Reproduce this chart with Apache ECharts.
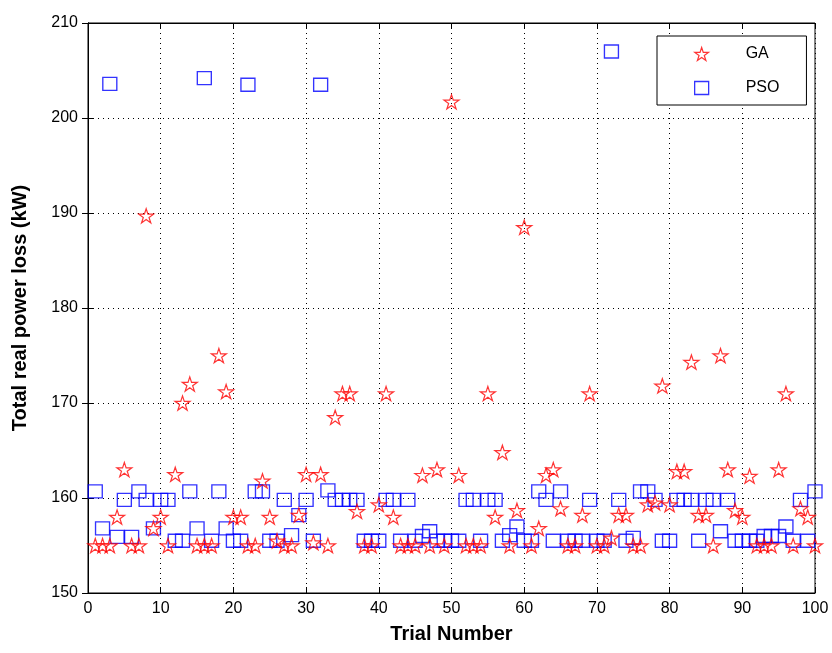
<!DOCTYPE html>
<html>
<head>
<meta charset="utf-8">
<script src="https://cdn.jsdelivr.net/npm/echarts@6/dist/echarts.min.js"></script>
<style>
  html, body { margin: 0; padding: 0; background: #fff; }
  #chart { width: 832px; height: 653px; }
</style>
</head>
<body>
<div id="chart"></div>
<script>
// ---- data ----
const xTicks = [0, 10, 20, 30, 40, 50, 60, 70, 80, 90, 100];
const yTicks = [150, 160, 170, 180, 190, 200, 210];

const gaValues = [
  155, 155, 155, 158, 163, 155, 155, 189.7, 156.8, 158,
  155, 162.5, 170, 172, 155, 155, 155, 175, 171.2, 158,
  158, 155, 155, 161.8, 158, 155.5, 155, 155, 158.2, 162.5,
  155.3, 162.5, 155, 168.5, 171, 171, 158.6, 155, 155, 159.3,
  171, 158, 155, 155, 155, 162.4, 155, 163, 155, 201.7,
  162.4, 155, 155, 155, 171, 158, 164.8, 155, 158.7, 188.5,
  155, 156.8, 162.4, 163, 158.9, 155, 155, 158.2, 171, 155,
  155, 155.8, 158.2, 158.2, 155, 155, 159.3, 159.5, 171.8, 159.3,
  162.8, 162.8, 174.3, 158.2, 158.2, 155, 175, 163, 158.7, 158,
  162.3, 155, 155, 155, 163, 171, 155, 158.9, 158, 155
];

const psoValues = [
  160.7, 156.8, 203.6, 155.9, 159.8, 155.9, 160.7, 159.8, 156.8, 159.8,
  159.8, 155.5, 155.5, 160.7, 156.8, 204.2, 155.5, 160.7, 156.8, 155.5,
  155.5, 203.5, 160.7, 160.7, 155.5, 155.5, 159.8, 156.1, 158.2, 159.8,
  155.5, 203.5, 160.8, 159.8, 159.8, 159.8, 159.8, 155.5, 155.5, 155.5,
  159.8, 159.8, 155.5, 159.8, 155.5, 156.0, 156.5, 155.5, 155.5, 155.5,
  155.5, 159.8, 159.8, 155.5, 159.8, 159.8, 155.5, 156.1, 157.0, 155.5,
  155.5, 160.7, 159.8, 155.5, 160.7, 155.5, 155.5, 155.5, 159.8, 155.5,
  155.5, 207.0, 159.8, 155.5, 155.8, 160.7, 160.7, 159.8, 155.5, 155.5,
  159.8, 159.8, 159.8, 155.5, 159.8, 159.8, 156.5, 159.8, 155.5, 155.5,
  155.5, 155.5, 156.0, 156.0, 156.0, 157.0, 155.5, 159.8, 155.5, 160.7
];

const seriesNames = ['GA', 'PSO'];
const xTitle = 'Trial Number';
const yTitle = 'Total real power loss (kW)';

// ---- build ----
const gaData = gaValues.map((v, i) => [i + 1, v]);
const psoData = psoValues.map((v, i) => [i + 1, v]);

const starPath = 'path://M50 0 L61.23 34.55 L97.55 34.55 L68.16 55.9 L79.39 90.45 L50 69.1 L20.61 90.45 L31.84 55.9 L2.45 34.55 L38.77 34.55 Z';

const FONT = 'Liberation Sans, Arial, Helvetica, sans-serif';
const tickLabelStyle = { color: '#000', fontSize: 16, fontFamily: FONT };
const gridLine = { show: true, lineStyle: { color: '#000', type: [1, 4], width: 1 } };
const gaStyle = { color: 'rgba(255,255,255,0)', borderColor: '#ff0000', borderWidth: 1.2 };
const psoStyle = { color: 'rgba(255,255,255,0)', borderColor: '#0000ff', borderWidth: 1.3 };

const chart = echarts.init(document.getElementById('chart'), null, { renderer: 'canvas' });
chart.setOption({
  animation: false,
  backgroundColor: '#fff',
  grid: { left: 88, right: 17, top: 23, bottom: 60, show: true, borderColor: '#000', borderWidth: 1 },
  legend: {
    data: [
      { name: seriesNames[0], icon: starPath, itemStyle: gaStyle },
      { name: seriesNames[1], icon: 'rect', itemStyle: psoStyle }
    ],
    orient: 'vertical',
    left: 657,
    top: 36,
    padding: [10, 27, 9, 37],
    itemGap: 18,
    itemWidth: 14,
    itemHeight: 13,
    borderColor: '#000',
    borderWidth: 1,
    backgroundColor: '#fff',
    textStyle: { color: '#000', fontSize: 16, fontFamily: FONT, padding: [0, 0, 0, 32] }
  },
  xAxis: [
    {
      type: 'value', min: xTicks[0], max: xTicks[xTicks.length - 1], interval: 10,
      name: xTitle, nameLocation: 'middle', nameGap: 31,
      nameTextStyle: { color: '#000', fontSize: 20, fontWeight: 'bold', fontFamily: FONT },
      axisLine: { show: true, lineStyle: { color: '#000', width: 1 } },
      axisTick: { show: true, inside: true, length: 6, lineStyle: { color: '#000' } },
      axisLabel: Object.assign({ margin: 8 }, tickLabelStyle),
      splitLine: gridLine
    },
    {
      type: 'value', position: 'top', min: xTicks[0], max: xTicks[xTicks.length - 1], interval: 10,
      axisLine: { show: true, lineStyle: { color: '#000', width: 1 } },
      axisTick: { show: true, inside: true, length: 6, lineStyle: { color: '#000' } },
      axisLabel: { show: false },
      splitLine: { show: false }
    }
  ],
  yAxis: [
    {
      type: 'value', min: yTicks[0], max: yTicks[yTicks.length - 1], interval: 10,
      name: yTitle, nameLocation: 'middle', nameGap: 58,
      nameTextStyle: { color: '#000', fontSize: 20, fontWeight: 'bold', fontFamily: FONT },
      axisLine: { show: true, lineStyle: { color: '#000', width: 1 } },
      axisTick: { show: true, inside: true, length: 6, lineStyle: { color: '#000' } },
      axisLabel: Object.assign({ margin: 10 }, tickLabelStyle),
      splitLine: gridLine
    },
    {
      type: 'value', position: 'right', min: yTicks[0], max: yTicks[yTicks.length - 1], interval: 10,
      axisLine: { show: true, lineStyle: { color: '#000', width: 1 } },
      axisTick: { show: true, inside: true, length: 6, lineStyle: { color: '#000' } },
      axisLabel: { show: false },
      splitLine: { show: false }
    }
  ],
  series: [
    {
      name: seriesNames[0], type: 'scatter', data: gaData,
      symbol: starPath, symbolSize: 15, symbolKeepAspect: true,
      itemStyle: gaStyle,
      z: 3
    },
    {
      name: seriesNames[1], type: 'scatter', data: psoData,
      symbol: 'rect', symbolSize: [14, 13],
      itemStyle: psoStyle,
      z: 2
    }
  ]
});
</script>
</body>
</html>
